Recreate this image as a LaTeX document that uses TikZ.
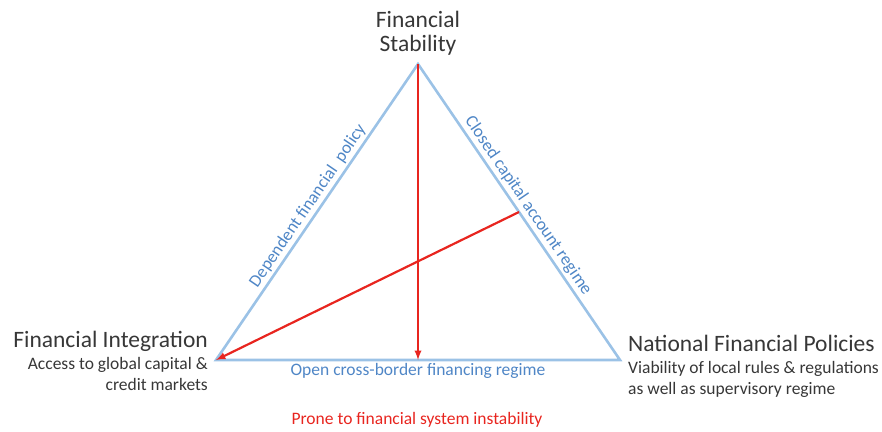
\documentclass[tikz,border=0pt]{standalone}
\usepackage{fontspec}
\setmainfont{Carlito}
\usetikzlibrary{calc,arrows}
\definecolor{triblue}{RGB}{155,194,230}
\definecolor{txtblue}{RGB}{79,134,198}
\definecolor{alarm}{RGB}{232,37,31}
\definecolor{ink}{RGB}{55,55,55}

\begin{document}
\begin{tikzpicture}[x=1pt,y=-1pt,
  head/.style={text=ink,font=\fontsize{23.5}{23.5}\selectfont,inner sep=0pt},
  sub/.style={text=ink,font=\fontsize{17.5}{21}\selectfont,inner sep=0pt},
  side/.style={text=txtblue,font=\fontsize{17.5}{21}\selectfont,midway}]
  \useasboundingbox (0,0) rectangle (882,431);
  \coordinate (T) at (418,64); % вершина
  \coordinate (L) at (216,360);
  \coordinate (R) at (620,360);
  \coordinate (B) at ($(L)!0.5!(R)$); % середина основания
  \coordinate (P) at ($(T)!0.5!(R)$); % середина правой стороны
  \draw[triblue, line width=2.6pt, line join=miter] (L) -- (T) -- (R) -- cycle;
  \path (L) -- node[side,sloped,above] (dep) {Dependent financial\ \ policy} (T);
  \path (T) -- node[side,sloped,above] (closed) {Closed capital account regime} (R);
  \path (L) -- node[side,below] (open) {Open cross-border financing regime} (R);
  % красные стрелки
  \draw[alarm, line width=2.2pt, -latex] (T) -- (B);
  \draw[alarm, line width=2.2pt, -latex] (P) -- (L);
  % base у многострочного узла --- по последней строке
  \node[head, align=center, anchor=base] (stab) at (418,51) {Financial\\Stability};
  \node[head, anchor=base east] (integ) at (208,347) {Financial Integration};
  \node[sub, align=right, anchor=base east] (integtxt) at (208,390) {Access to global capital \&\\credit markets};
  \node[head, anchor=base west] (natl) at (628,351) {National Financial Policies};
  \node[sub, align=left, anchor=base west] (natltxt) at (628,394) {Viability of local rules \& regulations\\as well as supervisory regime};
  \node[sub, text=alarm, anchor=base] (prone) at (417,424) {Prone to financial system instability};
\end{tikzpicture}
\end{document}
